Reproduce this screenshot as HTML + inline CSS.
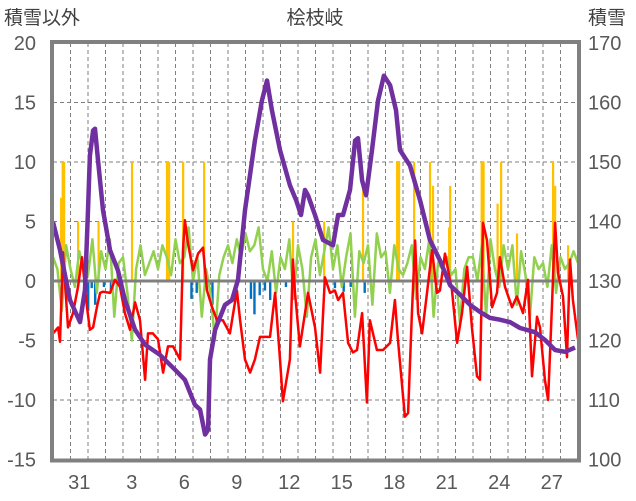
<!DOCTYPE html>
<html><head><meta charset="utf-8"><style>
html,body{margin:0;padding:0;background:#fff;}
svg{display:block;font-family:"Liberation Sans","Noto Sans CJK JP",sans-serif;}
</style></head><body>
<svg id="chart" width="636" height="501" viewBox="0 0 636 501" xmlns="http://www.w3.org/2000/svg">
<text x="4" y="24" font-size="19" fill="#404040">積雪以外</text>
<text x="315" y="24" font-size="19" fill="#404040" text-anchor="middle">桧枝岐</text>
<text x="588" y="24" font-size="19" fill="#404040">積雪</text>
<g id="grid"></g>
<g id="bars"></g>
<g id="lines"></g>
<g id="axes"></g>
</svg>
<script>
const leftTicks=[20,15,10,5,0,-5,-10,-15];
const rightTicks=[170,160,150,140,130,120,110,100];
const dayLabels=["30","31","1","2","3","4","5","6","7","8","9","10","11","12","13","14","15","16","17","18","19","20","21","22","23","24","25","26","27","28"];
const purpleT=[0,.4,.97,1.54,1.83,2,2.11,2.29,2.4,2.57,2.86,3.26,3.71,4.11,4.69,5.26,6.11,6.97,7.54,8.11,8.4,8.69,8.86,8.97,9.26,9.83,10.23,10.57,10.97,11.54,11.94,12.23,12.51,12.97,13.54,13.89,14.17,14.4,14.57,14.97,15.43,16,16.29,16.57,16.97,17.26,17.43,17.66,17.89,18.23,18.57,18.91,19.26,19.6,19.83,20.4,20.97,21.54,22.11,22.69,23.26,23.83,24.4,24.97,25.54,26.11,26.69,27.54,28.11,28.69,29.26,29.83];
const purpleV=[139.9,135.2,126.8,123.1,128.5,141.9,151.1,155.3,155.6,150.3,141.9,135.2,131.8,126.8,121.8,119.3,117.6,115.1,113.4,109.2,108.4,104.2,105,116.8,121.8,126,126.8,130.2,141.9,153.6,160.3,163.7,158.7,152,146.1,143.6,141.1,145.3,144.4,141.1,136.9,136,141.1,141.1,145.3,153.6,154,146.9,144.4,152,160.3,164.5,162.9,158.7,152,149.4,143.6,136.9,133.5,129.3,127.7,126,124.8,123.8,123.5,123.1,122.1,121.4,120.1,118.4,118.1,118.8];
const redT=[0,.29,.4,.57,.86,1.14,1.43,1.66,1.94,2.11,2.29,2.51,2.69,2.86,3.26,3.54,3.83,4.11,4.4,4.69,4.97,5.26,5.43,5.71,6,6.29,6.57,6.86,7.26,7.43,7.54,7.71,8,8.29,8.57,8.8,9.09,9.37,9.71,10.11,10.51,10.69,10.97,11.26,11.54,11.83,12.4,12.69,12.97,13.14,13.54,13.71,13.83,14.11,14.4,14.57,14.97,15.26,15.54,15.83,16.11,16.29,16.57,16.86,17.14,17.37,17.66,17.94,18.11,18.51,18.86,19.26,19.54,19.71,20.11,20.29,20.51,20.69,20.86,21.09,21.37,21.66,21.94,22.11,22.4,22.8,23.09,23.37,23.66,23.94,24.23,24.4,24.57,24.8,25.09,25.37,25.54,25.83,26.23,26.51,26.86,27.14,27.37,27.66,27.83,28.11,28.29,28.51,28.69,28.86,29.14,29.37,29.54,29.71,30];
const redV=[-4.4,-3.9,-5.1,2.4,-3.9,-2.7,-0.5,2.0,-2.2,-4.1,-3.9,-2.2,-1.0,-0.9,-1.0,0.1,-0.5,-2.7,-4.1,-1.8,-3.3,-8.3,-4.4,-4.4,-4.9,-7.7,-5.5,-5.5,-6.6,2.6,5.1,3.2,0.9,2.3,2.8,-0.8,-2.2,-3.3,-3.3,-4.4,-0.8,-3.3,-6.6,-7.7,-6.6,-4.7,-4.7,-1.0,-6.6,-10.1,-6.6,1.8,-1.0,-5.5,-2.7,-1.0,-3.9,-7.7,0.3,-1.0,-0.8,-1.6,-1.0,-5.2,-6.0,-5.8,-2.7,-10.2,-3.3,-5.8,-5.8,-5.2,-1.6,-4.9,-11.4,-11.1,-2.7,3.4,-2.7,-4.4,-1.0,2.6,-1.0,-0.8,2.3,-0.8,-5.2,-2.7,1.2,-3.9,-8.0,-8.3,4.9,3.4,-2.2,-1.0,2.0,-0.5,-2.2,-1.3,-2.7,0.1,-8.0,-3.0,-3.9,-8.3,-10.0,-2.2,4.9,0.7,-1.3,-6.4,1.8,-1.6,-4.9];
const greenV=[2,1,-2.5,3, 1,-0.5,2.5,1, 0.5,3.5,-1,2.5, 1,3.5,-3,1.5, 2,-1,-5,1, 3,0.5,1.5,2.5, 1,3,2,0.5, 3.5,1.5,2,4.5, 0,2,-3,1, -1,-5,0.5,2, 3,1.5,3.5,2, 4,2.5,3,4.5, 1,0,2.5,-1, 2,1,3.5,-1.5, 3,1,-3,2, 3.5,0.5,2.5,4.5, 1,3,-0.5,2, 4,-3,2.5,1.5, 3,-2,4,2, 2.5,-1,3,1, 0.5,1.5,3,-1.5, 2,1,3.5,-3, 1.5,1,2,0.5, 1,-3.5,1,2, 2,0,3,-3, 3.5,1,-0.5,3, 1,3,-2,2.5, 0.5,-3,2,1, 1.5,-0.5,3,-1, 2,1,1.5,2.5, 1.5];
const orangeT=[0.46,0.55,0.63,1.43,2.6,4.51,6.51,6.63,7.43,8.63,13.71,15.49,17.71,19.66,19.77,20.63,21.54,21.71,22.69,22.63,24.49,24.6,25.6,25.4,26.51,28.57,28.69,29.43];
const orangeV=[7,10,10,5,5,10,10,10,10,10,5,5,8,10,10,10,10,8,8,4.5,10,10,10,6.5,4,10,8,3];
const blueT=[1.83,2,2.2,2.4,2.9,3.3,7.9,8.2,9.1,11.3,11.5,11.8,12.1,12.4,13.3,16.1,16.6,17.0,17.8];
const blueV=[-1.2,-2.5,-0.6,-2.0,-0.5,-1.0,-1.5,-1.0,-2.0,-1.5,-2.8,-1.2,-0.8,-1.6,-0.5,-0.6,-0.9,-0.5,-1.0];

const NS="http://www.w3.org/2000/svg";
const X0=53,X1=578,Y0=43,Y1=459.5;
const xS=d=>X0+d*(X1-X0)/30;
const yL=v=>Y0+(20-v)*(Y1-Y0)/35;
const yR=v=>Y0+(170-v)*(Y1-Y0)/70;
function mk(tag,attrs,parent){const e=document.createElementNS(NS,tag);for(const k in attrs)e.setAttribute(k,attrs[k]);parent.appendChild(e);return e;}
const grid=document.getElementById('grid'),bars=document.getElementById('bars'),lines=document.getElementById('lines'),axes=document.getElementById('axes');
leftTicks.forEach(v=>{
  if(v!==20&&v!==-15&&v!==0){const g=mk('line',{x1:X0,x2:X1,y1:yL(v),y2:yL(v),stroke:'#7f7f7f','stroke-width':1,'stroke-dasharray':'4,3'},grid);
  
  }
  const t=mk('text',{x:36,y:yL(v)+7,'font-size':20,fill:'#595959','text-anchor':'end'},axes);t.textContent=v;
  
  
});
rightTicks.forEach(v=>{
  const t=mk('text',{x:588,y:yR(v)+7,'font-size':20,fill:'#595959'},axes);t.textContent=v;
  
  
});
for(let i=1;i<30;i++){const g=mk('line',{x1:xS(i),x2:xS(i),y1:Y0,y2:Y1,stroke:'#7f7f7f','stroke-width':1,'stroke-dasharray':'4,3'},grid);
  
  }
dayLabels.forEach((s,i)=>{if(i%3!==1)return;const t=mk('text',{x:xS(i+0.5),y:489,'font-size':20,fill:'#595959','text-anchor':'middle'},axes);t.textContent=s;
  
  });
orangeT.forEach((d,i)=>{const r=mk('rect',{x:xS(d)-1,y:yL(orangeV[i]),width:2.2,height:yL(0)-yL(orangeV[i]),fill:'#ffc000'},bars);
  
  });
blueT.forEach((d,i)=>{const r=mk('rect',{x:xS(d)-1,y:yL(0),width:2.4,height:yL(blueV[i])-yL(0),fill:'#0070c0'},bars);
  
  });
const gp=greenV.map((v,i)=>xS(i*0.25).toFixed(1)+','+yL(v).toFixed(1)).join(' ');
const gl=mk('polyline',{points:gp,fill:'none',stroke:'#92d050','stroke-width':2.5,'stroke-linejoin':'round'},lines);


const zl=mk('line',{x1:X0,x2:X1,y1:yL(0),y2:yL(0),stroke:'#808080','stroke-width':3},lines);


const rp=redV.map((v,i)=>xS(redT[i]).toFixed(1)+','+yL(v).toFixed(1)).join(' ');
const rl=mk('polyline',{points:rp,fill:'none',stroke:'#ff0000','stroke-width':2.5,'stroke-linejoin':'round'},lines);


const pp=purpleV.map((v,i)=>xS(purpleT[i]).toFixed(1)+','+yR(v).toFixed(1)).join(' ');
const pl=mk('polyline',{points:pp,fill:'none',stroke:'#7030a0','stroke-width':4.5,'stroke-linejoin':'round'},lines);


const fr=mk('rect',{x:X0-1,y:Y0-1,width:X1-X0+2,height:Y1-Y0+2,fill:'none',stroke:'#808080','stroke-width':4},axes);


</script>
</body></html>
